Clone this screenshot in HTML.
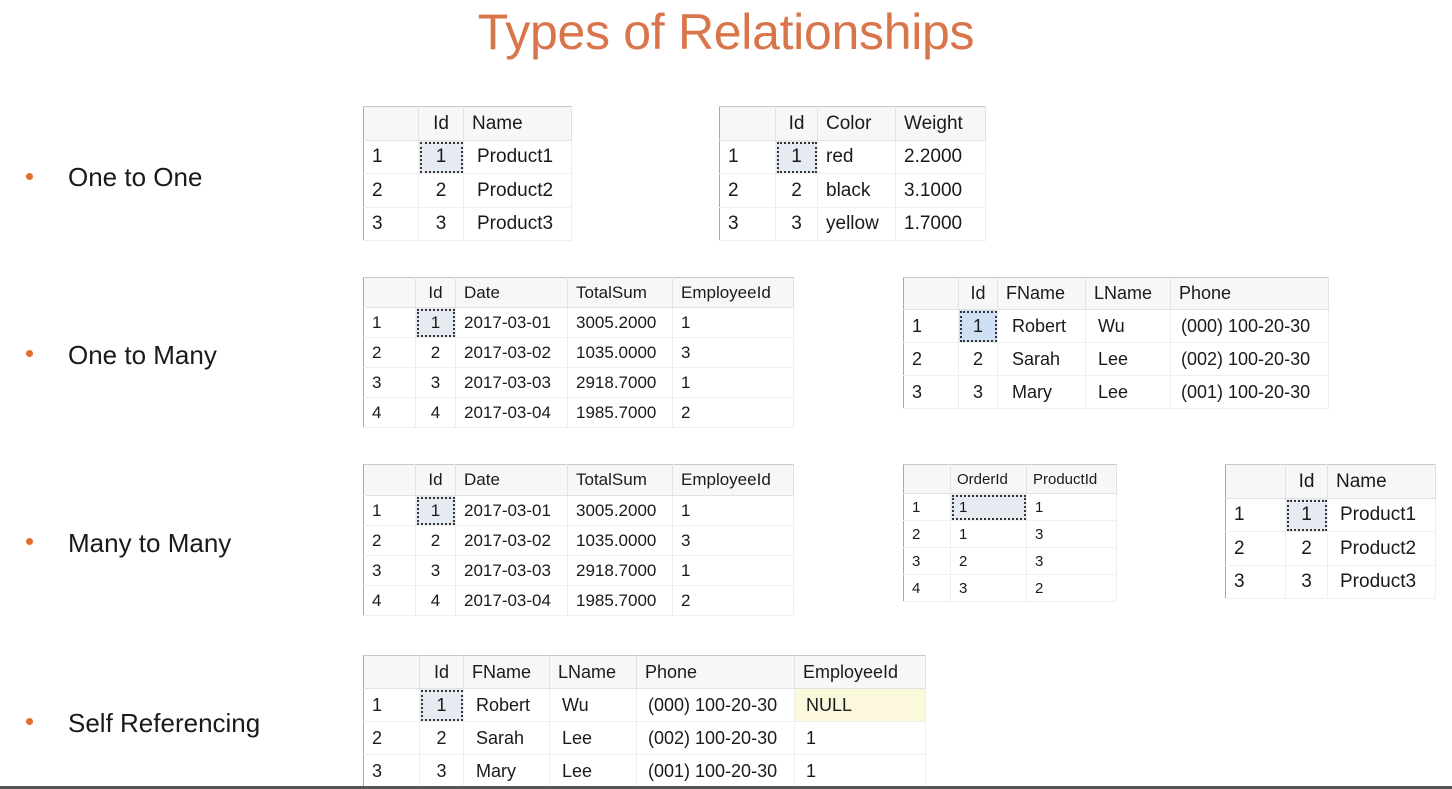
<!DOCTYPE html>
<html><head><meta charset="utf-8"><style>
body{margin:0;width:1452px;height:789px;background:#fff;position:relative;overflow:hidden;font-family:"Liberation Sans",sans-serif;color:#1a1a1a}
.t{position:absolute;border-collapse:collapse;border-left:1px solid #a8a8a8;border-top:1px solid #c8c8c8;table-layout:fixed}
.t td{padding:0 0 0 8px;white-space:nowrap;border-right:1px solid #efefef;border-bottom:1px solid #efefef;overflow:hidden}
.t tr.h td{background:#f7f7f7;border-right:1px solid #e2e2e2;border-bottom:1px solid #e2e2e2}
.t td.c{text-align:center;padding:0}
.t td.s{background:#e6ebf2;outline:2px dotted #333;outline-offset:-3px}
.b{position:absolute;left:68px;font-size:26px;color:#1a1a1a}
.d{position:absolute;left:26px;width:7px;height:7px;border-radius:50%;background:#e0702e}
</style></head><body>
<div style="position:absolute;left:0;width:1452px;top:3px;text-align:center;font-size:50px;color:#d9754a;font-weight:300;letter-spacing:-0.3px">Types of Relationships</div>

<div class="d" style="top:173px"></div><div class="b" style="top:162px">One to One</div>
<div class="d" style="top:350px"></div><div class="b" style="top:340px">One to Many</div>
<div class="d" style="top:538px"></div><div class="b" style="top:528px">Many to Many</div>
<div class="d" style="top:718px"></div><div class="b" style="top:708px">Self Referencing</div>

<table class="t" style="left:363px;top:106px;width:208px;font-size:19px">
<colgroup><col style="width:55px"><col style="width:45px"><col style="width:108px"></colgroup>
<tr class="h" style="height:34px"><td></td><td class="c">Id</td><td>Name</td></tr>
<tr style="height:33px"><td>1</td><td class="c s">1</td><td style="padding-left:13px">Product1</td></tr>
<tr style="height:34px"><td>2</td><td class="c">2</td><td style="padding-left:13px">Product2</td></tr>
<tr style="height:33px"><td>3</td><td class="c">3</td><td style="padding-left:13px">Product3</td></tr>
</table>

<table class="t" style="left:719px;top:106px;width:266px;font-size:19px">
<colgroup><col style="width:56px"><col style="width:42px"><col style="width:78px"><col style="width:90px"></colgroup>
<tr class="h" style="height:34px"><td></td><td class="c">Id</td><td>Color</td><td>Weight</td></tr>
<tr style="height:33px"><td>1</td><td class="c s">1</td><td>red</td><td>2.2000</td></tr>
<tr style="height:34px"><td>2</td><td class="c">2</td><td>black</td><td>3.1000</td></tr>
<tr style="height:33px"><td>3</td><td class="c">3</td><td>yellow</td><td>1.7000</td></tr>
</table>

<table class="t" style="left:363px;top:277px;width:430px;font-size:17px">
<colgroup><col style="width:52px"><col style="width:40px"><col style="width:112px"><col style="width:105px"><col style="width:121px"></colgroup>
<tr class="h" style="height:30px"><td></td><td class="c">Id</td><td>Date</td><td>TotalSum</td><td>EmployeeId</td></tr>
<tr style="height:30px"><td>1</td><td class="c s">1</td><td>2017-03-01</td><td>3005.2000</td><td>1</td></tr>
<tr style="height:30px"><td>2</td><td class="c">2</td><td>2017-03-02</td><td>1035.0000</td><td>3</td></tr>
<tr style="height:30px"><td>3</td><td class="c">3</td><td>2017-03-03</td><td>2918.7000</td><td>1</td></tr>
<tr style="height:30px"><td>4</td><td class="c">4</td><td>2017-03-04</td><td>1985.7000</td><td>2</td></tr>
</table>

<table class="t" style="left:903px;top:277px;width:425px;font-size:18px">
<colgroup><col style="width:55px"><col style="width:39px"><col style="width:88px"><col style="width:85px"><col style="width:158px"></colgroup>
<tr class="h" style="height:32px"><td></td><td class="c">Id</td><td>FName</td><td>LName</td><td>Phone</td></tr>
<tr style="height:33px"><td>1</td><td class="c s" style="background:#cfe0f5">1</td><td style="padding-left:14px">Robert</td><td style="padding-left:12px">Wu</td><td style="padding-left:10px">(000) 100-20-30</td></tr>
<tr style="height:33px"><td>2</td><td class="c">2</td><td style="padding-left:14px">Sarah</td><td style="padding-left:12px">Lee</td><td style="padding-left:10px">(002) 100-20-30</td></tr>
<tr style="height:33px"><td>3</td><td class="c">3</td><td style="padding-left:14px">Mary</td><td style="padding-left:12px">Lee</td><td style="padding-left:10px">(001) 100-20-30</td></tr>
</table>

<table class="t" style="left:363px;top:464px;width:430px;font-size:17px">
<colgroup><col style="width:52px"><col style="width:40px"><col style="width:112px"><col style="width:105px"><col style="width:121px"></colgroup>
<tr class="h" style="height:31px"><td></td><td class="c">Id</td><td>Date</td><td>TotalSum</td><td>EmployeeId</td></tr>
<tr style="height:30px"><td>1</td><td class="c s">1</td><td>2017-03-01</td><td>3005.2000</td><td>1</td></tr>
<tr style="height:30px"><td>2</td><td class="c">2</td><td>2017-03-02</td><td>1035.0000</td><td>3</td></tr>
<tr style="height:30px"><td>3</td><td class="c">3</td><td>2017-03-03</td><td>2918.7000</td><td>1</td></tr>
<tr style="height:30px"><td>4</td><td class="c">4</td><td>2017-03-04</td><td>1985.7000</td><td>2</td></tr>
</table>

<table class="t" style="left:903px;top:464px;width:213px;font-size:15px">
<colgroup><col style="width:47px"><col style="width:76px"><col style="width:90px"></colgroup>
<tr class="h" style="height:29px"><td></td><td style="padding-left:6px">OrderId</td><td style="padding-left:6px">ProductId</td></tr>
<tr style="height:27px"><td>1</td><td class="s">1</td><td>1</td></tr>
<tr style="height:27px"><td>2</td><td>1</td><td>3</td></tr>
<tr style="height:27px"><td>3</td><td>2</td><td>3</td></tr>
<tr style="height:27px"><td>4</td><td>3</td><td>2</td></tr>
</table>

<table class="t" style="left:1225px;top:464px;width:210px;font-size:19px">
<colgroup><col style="width:60px"><col style="width:42px"><col style="width:108px"></colgroup>
<tr class="h" style="height:34px"><td></td><td class="c">Id</td><td>Name</td></tr>
<tr style="height:33px"><td>1</td><td class="c s">1</td><td style="padding-left:12px">Product1</td></tr>
<tr style="height:34px"><td>2</td><td class="c">2</td><td style="padding-left:12px">Product2</td></tr>
<tr style="height:33px"><td>3</td><td class="c">3</td><td style="padding-left:12px">Product3</td></tr>
</table>

<table class="t" style="left:363px;top:655px;width:562px;font-size:18px">
<colgroup><col style="width:56px"><col style="width:44px"><col style="width:86px"><col style="width:87px"><col style="width:158px"><col style="width:131px"></colgroup>
<tr class="h" style="height:33px"><td></td><td class="c">Id</td><td>FName</td><td>LName</td><td>Phone</td><td>EmployeeId</td></tr>
<tr style="height:33px"><td>1</td><td class="c s">1</td><td style="padding-left:12px">Robert</td><td style="padding-left:12px">Wu</td><td style="padding-left:11px">(000) 100-20-30</td><td style="background:#fbf8dc;padding-left:11px">NULL</td></tr>
<tr style="height:33px"><td>2</td><td class="c">2</td><td style="padding-left:12px">Sarah</td><td style="padding-left:12px">Lee</td><td style="padding-left:11px">(002) 100-20-30</td><td style="padding-left:11px">1</td></tr>
<tr style="height:33px"><td>3</td><td class="c">3</td><td style="padding-left:12px">Mary</td><td style="padding-left:12px">Lee</td><td style="padding-left:11px">(001) 100-20-30</td><td style="padding-left:11px">1</td></tr>
</table>

<div style="position:absolute;left:0;top:786px;width:1452px;height:3px;background:#555"></div>
</body></html>
